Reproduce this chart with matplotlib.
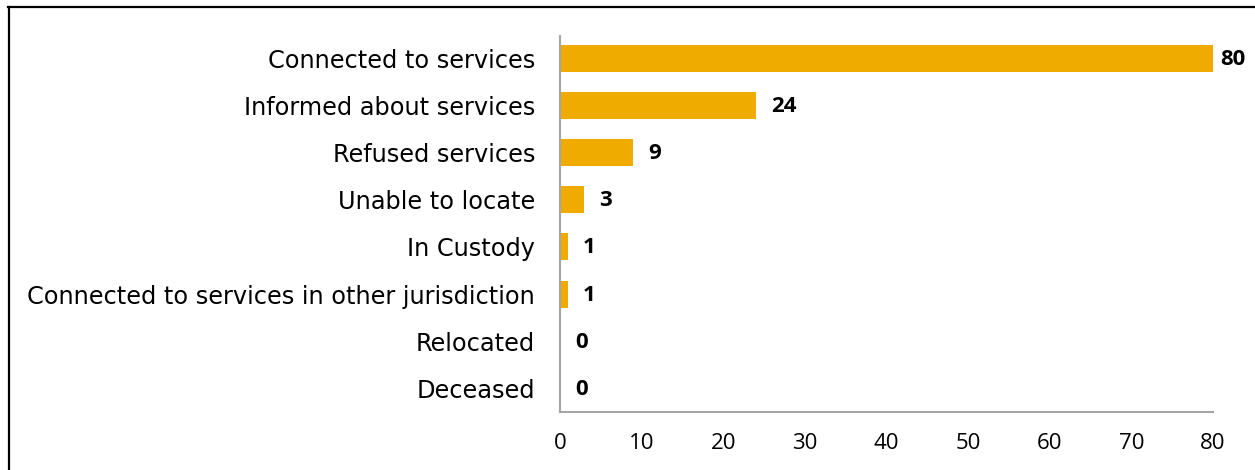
import matplotlib
matplotlib.use("Agg")
import matplotlib.pyplot as plt
from matplotlib.lines import Line2D

categories = [
    "Connected to services",
    "Informed about services",
    "Refused services",
    "Unable to locate",
    "In Custody",
    "Connected to services in other jurisdiction",
    "Relocated",
    "Deceased",
]
counts = [80, 24, 9, 3, 1, 1, 0, 0]
x_ticks = [0, 10, 20, 30, 40, 50, 60, 70, 80]

plt.rcParams["font.family"] = ["DejaVu Sans"]

W, H = 1255, 470
fig = plt.figure(figsize=(W / 100, H / 100), dpi=100)
ax = fig.add_axes([560 / W, 58 / H, 653 / W, 376 / H])

bar_color = "#F0AB00"
ypos = list(range(len(categories)))
ax.barh(ypos, counts, height=0.57, color=bar_color)

num_font = ["Open Sans", "DejaVu Sans"]
px = 72 / 100  # points per pixel
for y, v in zip(ypos, counts):
    # the longest bar gets a tighter gap so its label stays inside the figure
    gap = 7 if v == max(counts) else 15
    ax.annotate(str(v), xy=(v, y + 0.02), xytext=(gap * px, 0), textcoords="offset points",
                va="center", ha="left", fontsize=16, fontweight="bold",
                family=num_font, color="black")

ax.set_yticks(ypos)
ax.set_yticklabels(categories, fontsize=17.3)
ax.set_xticks(x_ticks)
ax.set_xticklabels([str(t) for t in x_ticks], fontsize=16, family=num_font)
ax.set_xlim(0, 80)
ax.set_ylim(7.5, -0.47)
ax.tick_params(axis="both", length=0)
ax.tick_params(axis="y", pad=18)
ax.tick_params(axis="x", pad=15)

for side in ("top", "right"):
    ax.spines[side].set_visible(False)
for side in ("left", "bottom"):
    ax.spines[side].set_color("#A6A6A6")
    ax.spines[side].set_linewidth(1.5)

# frame around the figure (top and left edges)
fig.add_artist(Line2D([8 / W, 1.0], [1 - 7 / H, 1 - 7 / H],
                      transform=fig.transFigure, color="black", linewidth=1.6))
fig.add_artist(Line2D([8.5 / W, 8.5 / W], [0.0, 1 - 7 / H],
                      transform=fig.transFigure, color="black", linewidth=1.6))

fig.savefig("out.png", dpi=100)
